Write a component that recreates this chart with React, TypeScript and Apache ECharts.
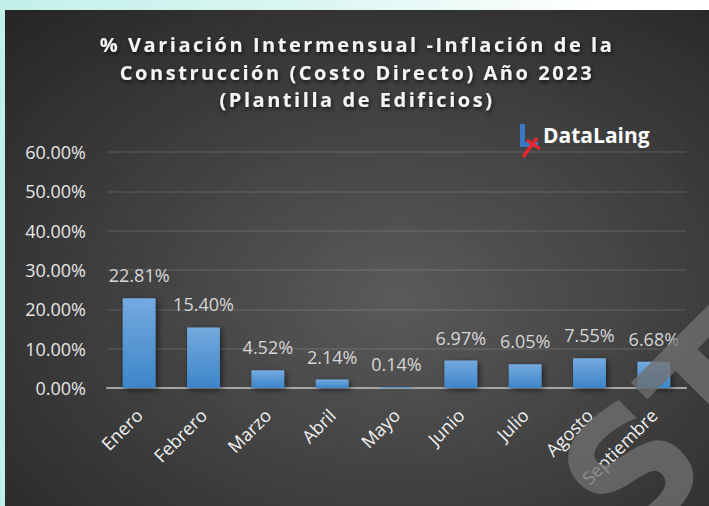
import React, { useEffect, useRef } from "react";
import * as echarts from "echarts";

const months = ["Enero", "Febrero", "Marzo", "Abril", "Mayo", "Junio", "Julio", "Agosto", "Septiembre"];
const values = [22.81, 15.4, 4.52, 2.14, 0.14, 6.97, 6.05, 7.55, 6.68];
const yMin = 0;
const yMax = 60;
const yStep = 10;
const titleLines = [
  "% Variación Intermensual -Inflación de la",
  "Construcción (Costo Directo) Año 2023",
  "(Plantilla de Edificios)",
];
const brand = "DataLaing";
const watermark = "ST";

export default function App() {
  const ref = useRef<HTMLDivElement>(null);
  useEffect(() => {
    const el = ref.current!;
    const chart = echarts.init(el, undefined, { renderer: "svg" });
    const fmt = (v: number) => v.toFixed(2) + "%";
    chart.setOption({
      animation: false,
      backgroundColor: {
        type: "radial",
        x: 0.56,
        y: 0.58,
        r: 0.85,
        colorStops: [
          { offset: 0, color: "#5a5a5a" },
          { offset: 1, color: "#222222" },
        ],
      },
      title: {
        text: titleLines.join("\n"),
        left: "center",
        top: 16,
        textStyle: {
          fontFamily: "Open Sans",
          fontWeight: "bold",
          fontSize: 20,
          lineHeight: 27.5,
          color: "#f4f4f4",
          textShadowColor: "rgba(0,0,0,0.7)",
          textShadowBlur: 4,
          textShadowOffsetY: 2,
          textShadowOffsetX: 1,
        },
      },
      grid: { left: 102, right: 23, top: 142, bottom: 118 },
      xAxis: {
        type: "category",
        data: months,
        axisTick: { show: false },
        axisLine: { lineStyle: { color: "#a6a6a6", width: 2 } },
        axisLabel: {
          rotate: 45,
          margin: 24,
          color: "#f2f2f2",
          fontFamily: "Open Sans",
          fontSize: 18,
          interval: 0,
        },
      },
      yAxis: {
        type: "value",
        min: yMin,
        max: yMax,
        interval: yStep,
        axisLine: { show: false },
        axisTick: { show: false },
        splitLine: { lineStyle: { color: "rgba(255,255,255,0.11)", width: 1.5 } },
        axisLabel: {
          margin: 21,
          color: "#e6e6e6",
          fontFamily: "Open Sans",
          fontSize: 18,
          formatter: (v: number) => fmt(v),
        },
      },
      series: [
        {
          type: "bar",
          data: values,
          barWidth: "51%",
          barMinHeight: 1,
          itemStyle: {
            color: {
              type: "linear",
              x: 0,
              y: 0,
              x2: 0,
              y2: 1,
              colorStops: [
                { offset: 0, color: "#74aadf" },
                { offset: 1, color: "#3d85c8" },
              ],
            },
            shadowColor: "rgba(0,0,0,0.55)",
            shadowBlur: 6,
            shadowOffsetX: 2,
            shadowOffsetY: 2,
          },
          label: {
            show: true,
            position: "top",
            distance: 14,
            color: "#d6d6d6",
            fontFamily: "Open Sans",
            fontSize: 18,
            formatter: (p: any) => fmt(p.value),
          },
        },
      ],
      graphic: [
        { type: "rect", z: 50, shape: { x: 515, y: 114, width: 5, height: 23 }, style: { fill: "#3a78c2" } },
        { type: "rect", z: 50, shape: { x: 515, y: 132, width: 18, height: 5 }, style: { fill: "#3a78c2" } },
        { type: "line", z: 51, shape: { x1: 518, y1: 147, x2: 532, y2: 128 }, style: { stroke: "#e8262d", lineWidth: 3.5 } },
        { type: "line", z: 51, shape: { x1: 522, y1: 130, x2: 535, y2: 139 }, style: { stroke: "#e8262d", lineWidth: 3 } },
        {
          type: "text",
          z: 50,
          x: 538,
          y: 125,
          style: {
            text: brand,
            fill: "#ffffff",
            font: "bold 21px 'Open Sans'",
            textAlign: "left",
            textVerticalAlign: "middle",
          },
        },
        {
          type: "text",
          z: 100,
          x: 586,
          y: 502,
          rotation: Math.PI / 4,
          silent: true,
          style: {
            text: watermark,
            fill: "rgba(112,112,112,0.78)",
            font: "bold 165px 'DejaVu Sans'",
            textAlign: "left",
            textVerticalAlign: "middle",
          },
        },
      ],
    });
    const fix = () => {
      el.querySelectorAll("text").forEach((t) => {
        const s = (t.textContent || "").trim();
        if (titleLines.includes(s)) {
          (t as SVGTextElement).style.letterSpacing = "2.55px";
        }
      });
    };
    chart.on("finished", fix);
    fix();
    const tm = setTimeout(fix, 50);
    return () => {
      clearTimeout(tm);
      chart.dispose();
    };
  }, []);
  return (
    <div
      style={{
        position: "absolute",
        left: 0,
        top: 0,
        width: 709,
        height: 506,
        background: "linear-gradient(to right, #c2f0e9 0%, #dcf6f2 45%, #ffffff 85%)",
        overflow: "hidden",
      }}
    >
      <div ref={ref} style={{ position: "absolute", left: 5, top: 10, width: 704, height: 496 }} />
    </div>
  );
}
